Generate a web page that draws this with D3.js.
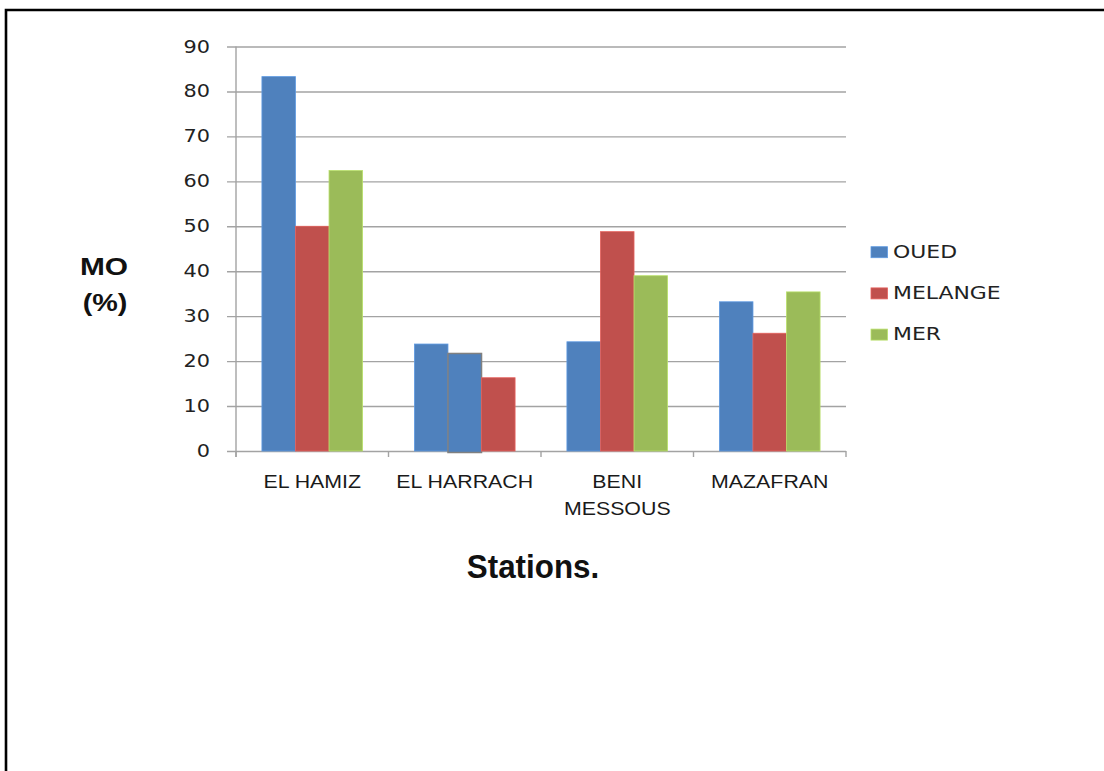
<!DOCTYPE html>
<html>
<head>
<meta charset="utf-8">
<script src="https://cdn.jsdelivr.net/npm/d3@7"></script>
<style>
  html, body { margin: 0; padding: 0; background: #fff; }
  svg { display: block; }
</style>
</head>
<body>
<svg id="chart" width="1104" height="771"></svg>
<script>
// Organic matter (MO, %) per station and sampling zone
const categories = ["EL HAMIZ", "EL HARRACH", "BENI MESSOUS", "MAZAFRAN"];
const categoryLines = [["EL HAMIZ"], ["EL HARRACH"], ["BENI", "MESSOUS"], ["MAZAFRAN"]];
const seriesNames = ["OUED", "MELANGE", "MER"];
const oued = [83.3, 23.8, 24.3, 33.2];
const melange = [50, 21.7, 48.8, 26.2];
const mer = [62.4, 16.3, 39.0, 35.4];
const yTicks = [0, 10, 20, 30, 40, 50, 60, 70, 80, 90];

const seriesValues = [oued, melange, mer];
const colors = { OUED: "#4F81BD", MELANGE: "#C0504D", MER: "#9BBB59" };

const svg = d3.select("#chart");
svg.append("rect").attr("width", 1104).attr("height", 771).attr("fill", "#fff");

// frame (left and top edges)
svg.append("path")
  .attr("d", "M6,771 V10 H1104")
  .attr("fill", "none")
  .attr("stroke", "#000")
  .attr("stroke-width", 2.6);

const plot = { left: 236, right: 846, top: 46.5, bottom: 451 };

const y = d3.scaleLinear().domain([0, 90]).range([plot.bottom, plot.top]);
const x0 = d3.scaleBand().domain(categories)
  .range([plot.left, plot.right])
  .paddingInner(0.34).paddingOuter(0.17);
const x1 = d3.scaleBand().domain(seriesNames).range([0, x0.bandwidth()]).padding(0);

// horizontal gridlines with ticks extending left of the axis
const grid = svg.append("g")
  .attr("transform", `translate(${plot.right},0)`)
  .call(d3.axisLeft(y).tickValues(yTicks).tickSize(plot.right - plot.left + 9).tickFormat(""));
grid.select(".domain").remove();
grid.selectAll(".tick line").attr("stroke", "#a3a3a3").attr("stroke-width", 1.4);

// y tick labels
const yLab = svg.append("g");
yTicks.forEach(t => {
  yLab.append("text")
    .attr("transform", `translate(210,${y(t) + 6}) scale(1.19,1)`)
    .attr("text-anchor", "end")
    .attr("font-family", "DejaVu Sans")
    .attr("font-size", 17.5)
    .attr("fill", "#222")
    .text(t);
});

// vertical axis line
svg.append("line")
  .attr("x1", plot.left).attr("x2", plot.left)
  .attr("y1", plot.top).attr("y2", plot.bottom + 6)
  .attr("stroke", "#a3a3a3").attr("stroke-width", 1.4);

// category boundary ticks below the baseline
const bounds = categories.map(c => x0(c) - x0.step() * x0.paddingInner() / 2).concat([plot.right]);
bounds.forEach(bx => {
  svg.append("line")
    .attr("x1", bx).attr("x2", bx)
    .attr("y1", plot.bottom).attr("y2", plot.bottom + 6)
    .attr("stroke", "#a3a3a3").attr("stroke-width", 1.4);
});

// bars; the EL HARRACH group carries its own fill sequence
const harrachFills = ["OUED", "OUED", "MELANGE"];
const bars = [];
categories.forEach((c, i) => {
  seriesNames.forEach((s, j) => {
    const key = c === "EL HARRACH" ? harrachFills[j] : s;
    bars.push({ cat: c, series: s, value: seriesValues[j][i], fill: colors[key],
                outlined: c === "EL HARRACH" && j === 1 });
  });
});

svg.append("g").selectAll("rect").data(bars).join("rect")
  .attr("x", d => x0(d.cat) + x1(d.series))
  .attr("y", d => y(d.value))
  .attr("width", x1.bandwidth())
  .attr("height", d => y(0) - y(d.value) + (d.outlined ? 1.5 : 0))
  .attr("fill", d => d.fill)
  .attr("stroke", d => d.outlined ? "#808080" : d3.color(d.fill).brighter(0.5))
  .attr("stroke-width", d => d.outlined ? 1.5 : 0.8);

// category labels, centred under each group
categories.forEach((c, i) => {
  const cx = x0(c) + x0.bandwidth() / 2;
  categoryLines[i].forEach((line, k) => {
    svg.append("text")
      .attr("transform", `translate(${cx},${488 + k * 27}) scale(1.22,1)`)
      .attr("text-anchor", "middle")
      .attr("font-family", "Liberation Sans")
      .attr("font-size", 17.5)
      .attr("fill", "#1a1a1a")
      .text(line);
  });
});

// axis titles
svg.append("text")
  .attr("transform", "translate(533,578) scale(0.95,1)")
  .attr("text-anchor", "middle")
  .attr("font-family", "Liberation Sans")
  .attr("font-weight", "bold")
  .attr("font-size", 33)
  .attr("fill", "#111")
  .text("Stations.");

svg.append("text")
  .attr("transform", "translate(104,275) scale(1.3,1)")
  .attr("text-anchor", "middle")
  .attr("font-family", "Liberation Sans")
  .attr("font-weight", "bold")
  .attr("font-size", 23)
  .attr("fill", "#111")
  .text("MO");
svg.append("text")
  .attr("transform", "translate(105,311) scale(1.25,1)")
  .attr("text-anchor", "middle")
  .attr("font-family", "Liberation Sans")
  .attr("font-weight", "bold")
  .attr("font-size", 23)
  .attr("fill", "#111")
  .text("(%)");

// legend
const legend = svg.append("g");
seriesNames.forEach((s, i) => {
  const by = 257.7 + i * 41.2;
  legend.append("rect")
    .attr("x", 871).attr("y", by - 11)
    .attr("width", 16.5).attr("height", 11)
    .attr("fill", colors[s])
    .attr("stroke", d3.color(colors[s]).brighter(0.5)).attr("stroke-width", 0.8);
  legend.append("text")
    .attr("transform", `translate(893,${by}) scale(1.29,1)`)
    .attr("font-family", "DejaVu Sans")
    .attr("font-size", 17)
    .attr("fill", "#222")
    .text(s);
});
</script>
</body>
</html>
